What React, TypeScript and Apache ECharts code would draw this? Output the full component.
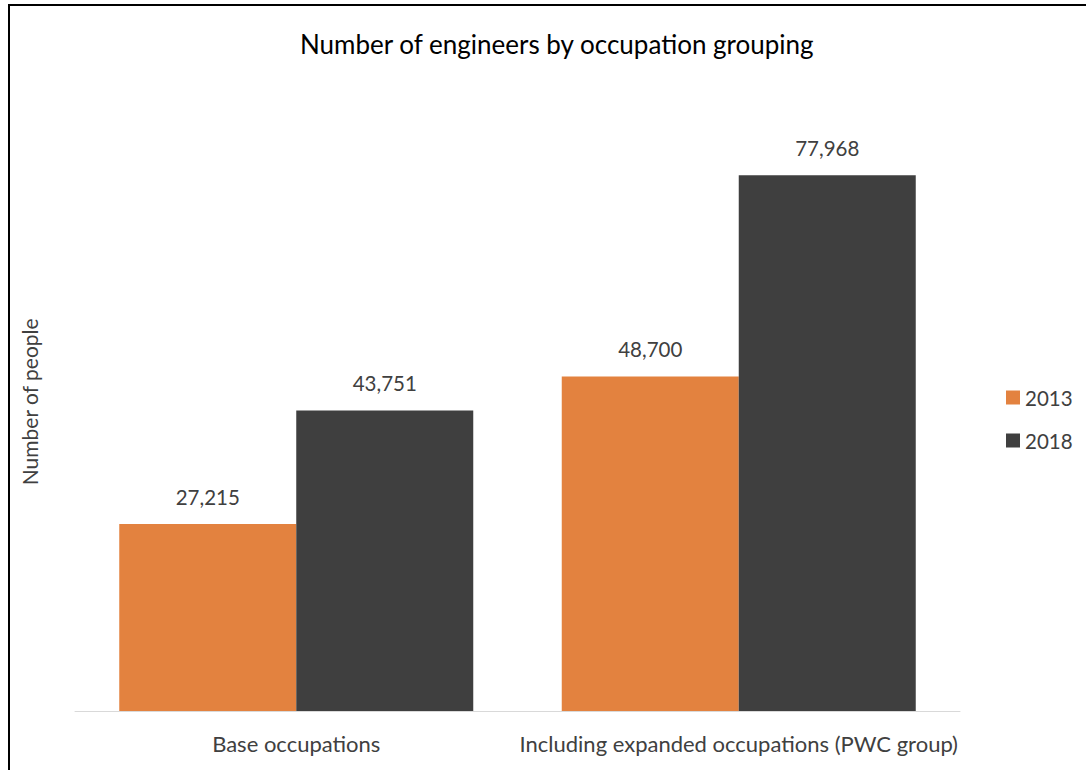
import React, { useEffect, useRef } from "react";
import * as echarts from "echarts";

const categories = ["Base occupations", "Including expanded occupations (PWC group)"];
const seriesNames = ["2013", "2018"];
const values2013 = [27215, 48700];
const values2018 = [43751, 77968];

const FONT = "Lato, 'Open Sans', sans-serif";
const TEXT = "#404040";

export default function App() {
  const ref = useRef<HTMLDivElement>(null);

  useEffect(() => {
    document.body.style.margin = "0";
    const chart = echarts.init(ref.current!, undefined, { renderer: "svg" });
    const fmt = (p: any) => Number(p.value).toLocaleString("en-US");
    const valueLabel = {
      show: true,
      position: "top",
      distance: 17,
      formatter: fmt,
      fontFamily: FONT,
      fontSize: 20.5,
      color: TEXT,
    };
    chart.setOption({
      animation: false,
      backgroundColor: "#ffffff",
      textStyle: { fontFamily: FONT },
      title: {
        text: "Number of engineers by occupation grouping",
        left: 295,
        top: 26,
        textStyle: { fontFamily: FONT, fontSize: 26, fontWeight: "normal", color: "#000000" },
      },
      legend: {
        orient: "vertical",
        left: 1001,
        top: 382,
        itemWidth: 14,
        itemHeight: 14,
        itemGap: 22,
        icon: "rect",
        data: seriesNames,
        textStyle: { fontFamily: FONT, fontSize: 20.5, color: TEXT },
      },
      grid: { left: 75, right: 126, top: 92.6, bottom: 59 },
      xAxis: {
        type: "category",
        data: categories,
        axisLine: { lineStyle: { color: "#d9d9d9", width: 1 } },
        axisTick: { show: false },
        axisLabel: { interval: 0, fontFamily: FONT, fontSize: 22, color: TEXT, margin: 21 },
      },
      yAxis: {
        type: "value",
        min: 0,
        max: 90000,
        name: "Number of people",
        nameLocation: "middle",
        nameGap: 35,
        nameTextStyle: { fontFamily: FONT, fontSize: 21, color: TEXT },
        axisLine: { show: false },
        axisTick: { show: false },
        axisLabel: { show: false },
        splitLine: { show: false },
      },
      graphic: [
        {
          type: "rect",
          shape: { x: 9, y: 5, width: 1200, height: 900 },
          style: { fill: "none", stroke: "#000000", lineWidth: 2 },
          silent: true,
        },
      ],
      series: [
        {
          name: seriesNames[0],
          type: "bar",
          data: values2013,
          barGap: "0%",
          barCategoryGap: "20%",
          itemStyle: { color: "#e3823f" },
          label: valueLabel,
        },
        {
          name: seriesNames[1],
          type: "bar",
          data: values2018,
          barGap: "0%",
          barCategoryGap: "20%",
          itemStyle: { color: "#3f3f3f" },
          label: valueLabel,
        },
      ],
    });
    return () => chart.dispose();
  }, []);

  return <div ref={ref} style={{ width: 1086, height: 770 }} />;
}
